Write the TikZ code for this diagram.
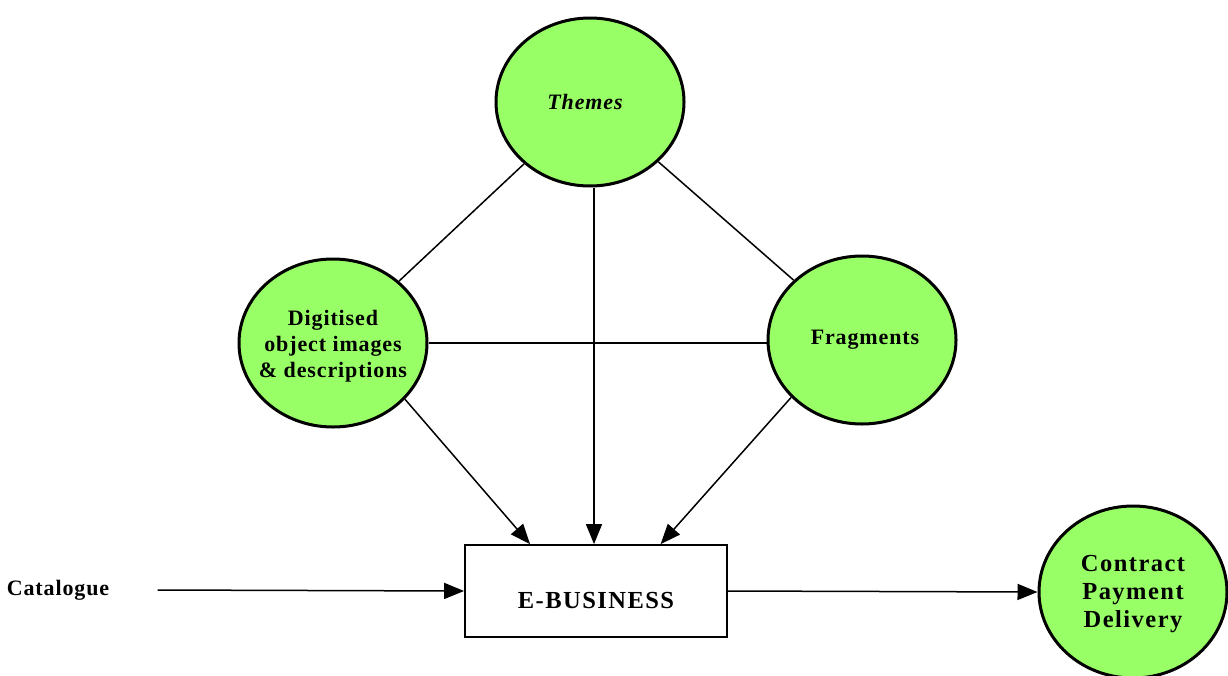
\documentclass[tikz,border=0pt]{standalone}
\usepackage{fontspec}
\setmainfont{Liberation Serif}[LetterSpace=4]
\usetikzlibrary{shapes.geometric,arrows.meta,calc}
\definecolor{topicgreen}{HTML}{99FF66}
\begin{document}
\begin{tikzpicture}[x=1pt,y=-1pt,
  topicfont/.style={font=\fontsize{22}{26}\selectfont\bfseries},
  bigfont/.style={font=\fontsize{24.5}{28}\selectfont\bfseries\addfontfeatures{LetterSpace=6}},
  topic/.style={ellipse,draw=black,line width=3pt,fill=topicgreen,
    minimum width=188pt,minimum height=168pt,inner sep=-20pt,
    align=center,topicfont},
  hub/.style={rectangle,draw=black,line width=1.8pt,fill=white,
    minimum width=262pt,minimum height=92pt,inner sep=0pt},
  link/.style={line width=1.5pt},
  flow/.style={line width=1.5pt,-{Triangle[length=20pt,width=16pt]}}]
\useasboundingbox (0,0) rectangle (1228,675);

% concept circles
\node[topic] (themes) at (590,102) {\itshape Themes\hspace*{10pt}};
\node[topic,label={[align=center,topicfont,yshift=-3pt]center:Digitised\\object images\\\& descriptions}] (digit) at (333,343) {};
\node[topic] (frag) at (862,340) {\hspace*{6pt}Fragments};
\node[topic,minimum height=172pt,label={[align=center,bigfont,yshift=-2pt]center:Contract\\Payment\\Delivery}] (contract) at (1133,592) {};

% central process box and input label
\node[hub,label={[bigfont,yshift=-9pt]center:E-BUSINESS}] (ebiz) at (596,591) {};
\node[topicfont] (cat) at (58,590) {Catalogue};

% undirected links between the circles
\draw[link] (themes) -- (digit);
\draw[link] (themes) -- (frag);
\draw[link] (digit.east) -- (frag.west |- digit.east);

% arrows into the box
\draw[flow] (themes.south -| 594,0) -- (594,0 |- ebiz.north);
\draw[flow] (digit.-38) -- ($(ebiz.north west)!0.25!(ebiz.north east)$);
\draw[flow] (frag.-141) -- ($(ebiz.north west)!0.745!(ebiz.north east)$);
\draw[flow] ([xshift=45pt]cat.east) -- (ebiz.west);
\draw[flow] (ebiz.east) -- (contract.west);
\end{tikzpicture}
\end{document}
